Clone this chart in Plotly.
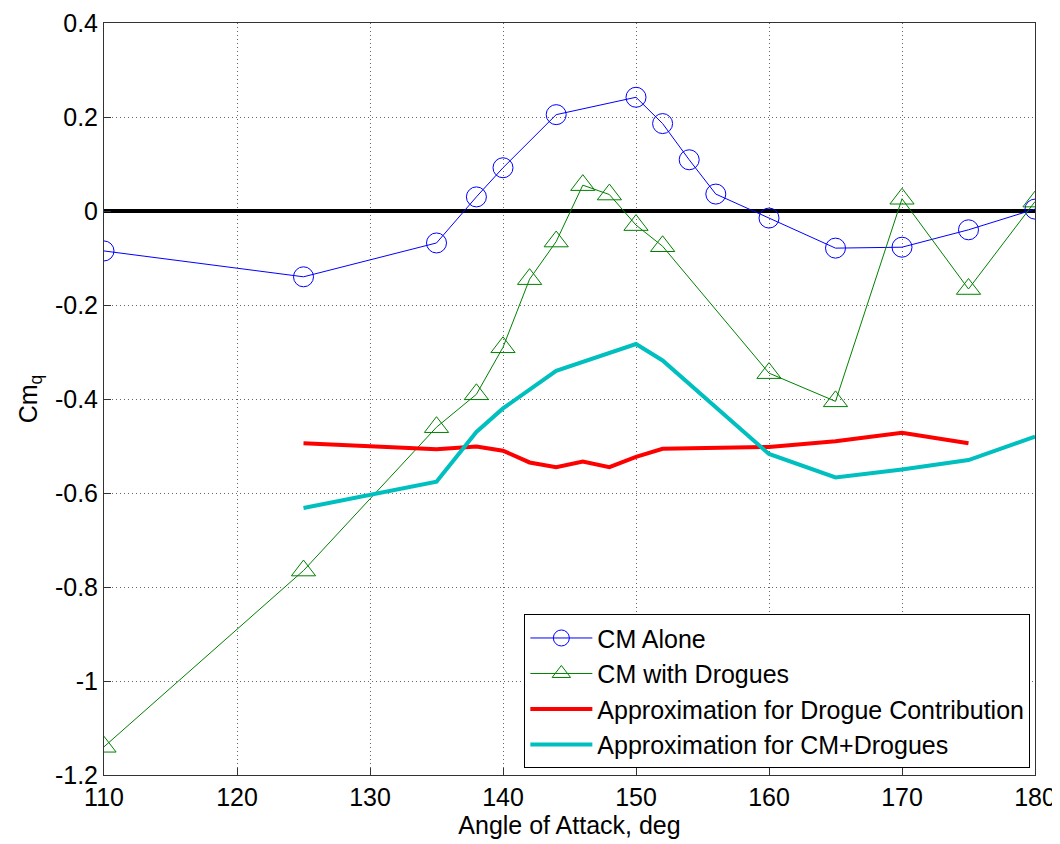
import plotly.graph_objects as go

# CM Alone
aoa_cm = [110, 125, 135, 138, 140, 144, 150, 152, 154, 156, 160, 165, 170, 175, 180]
cm_alone = [-0.085, -0.14, -0.068, 0.03, 0.092, 0.205, 0.242, 0.186, 0.109, 0.036, -0.015, -0.079, -0.077, -0.04, 0.004]

# CM with Drogues
aoa_dr = [110, 125, 135, 138, 140, 142, 144, 146, 148, 150, 152, 160, 165, 170, 175, 180]
cm_drogues = [-1.14, -0.765, -0.46, -0.39, -0.29, -0.145, -0.065, 0.055, 0.035, -0.03, -0.075, -0.345, -0.405, 0.026, -0.166, 0.02]

# Approximation for Drogue Contribution
aoa_red = [125, 135, 138, 140, 142, 144, 146, 148, 150, 152, 160, 165, 170, 175]
drogue_contrib = [-0.494, -0.507, -0.501, -0.51, -0.535, -0.545, -0.533, -0.545, -0.523, -0.506, -0.502, -0.49, -0.472, -0.494]

# Approximation for CM+Drogues
aoa_cyan = [125, 135, 138, 140, 144, 150, 152, 160, 165, 170, 175, 180]
cm_plus_drogues = [-0.632, -0.576, -0.47, -0.42, -0.34, -0.283, -0.318, -0.517, -0.567, -0.55, -0.53, -0.48]

# zero reference line
zero_x = [110, 180]
zero_y = [0, 0]

x_ticks = [110, 120, 130, 140, 150, 160, 170, 180]
y_ticks = [0.4, 0.2, 0, -0.2, -0.4, -0.6, -0.8, -1, -1.2]
y_ticklabels = ["0.4", "0.2", "0", "-0.2", "-0.4", "-0.6", "-0.8", "-1", "-1.2"]

FONT = "Liberation Sans, Arial, sans-serif"

fig = go.Figure()
fig.add_trace(go.Scatter(x=zero_x, y=zero_y, mode="lines", line=dict(color="black", width=4),
                         showlegend=False, hoverinfo="skip"))
fig.add_trace(go.Scatter(x=aoa_cm, y=cm_alone, mode="lines+markers", name="CM Alone",
                         line=dict(color="#0000ff", width=1),
                         marker=dict(symbol="circle-open", size=20, color="#0000ff", line=dict(width=1))))
fig.add_trace(go.Scatter(x=aoa_dr, y=cm_drogues, mode="lines+markers", name="CM with Drogues",
                         line=dict(color="#008000", width=1),
                         marker=dict(symbol="triangle-up-open", size=21, color="#008000", line=dict(width=1))))
fig.add_trace(go.Scatter(x=aoa_red, y=drogue_contrib, mode="lines", name="Approximation for Drogue Contribution",
                         line=dict(color="#ff0000", width=4)))
fig.add_trace(go.Scatter(x=aoa_cyan, y=cm_plus_drogues, mode="lines", name="Approximation for CM+Drogues",
                         line=dict(color="#00bfbf", width=4)))

axis_common = dict(showline=True, linecolor="#333333", linewidth=1, mirror=True,
                   ticks="inside", ticklen=7, tickcolor="#333333", automargin=False,
                   showgrid=True, gridcolor="#666666", griddash="1px,3px", gridwidth=1,
                   zeroline=False, tickfont=dict(family=FONT, size=25, color="black"))

fig.update_layout(
    width=1060, height=844,
    paper_bgcolor="white", plot_bgcolor="white",
    margin=dict(l=96, r=33, t=15, b=77),
    font=dict(family=FONT, size=25, color="black"),
    xaxis=dict(range=[110, 180], tickvals=x_ticks,
               title=dict(text="Angle of Attack, deg", font=dict(size=25), standoff=2), **axis_common),
    yaxis=dict(range=[-1.2, 0.4], tickvals=y_ticks, ticktext=y_ticklabels,
               title=dict(text="Cm<sub>q</sub>", font=dict(size=25), standoff=10), **axis_common),
    legend=dict(x=0.995, y=0.009, xanchor="right", yanchor="bottom",
                bgcolor="white", bordercolor="black", borderwidth=1,
                font=dict(size=25), tracegroupgap=0, itemwidth=62),
    showlegend=True,
)

fig.write_html("out.html")
